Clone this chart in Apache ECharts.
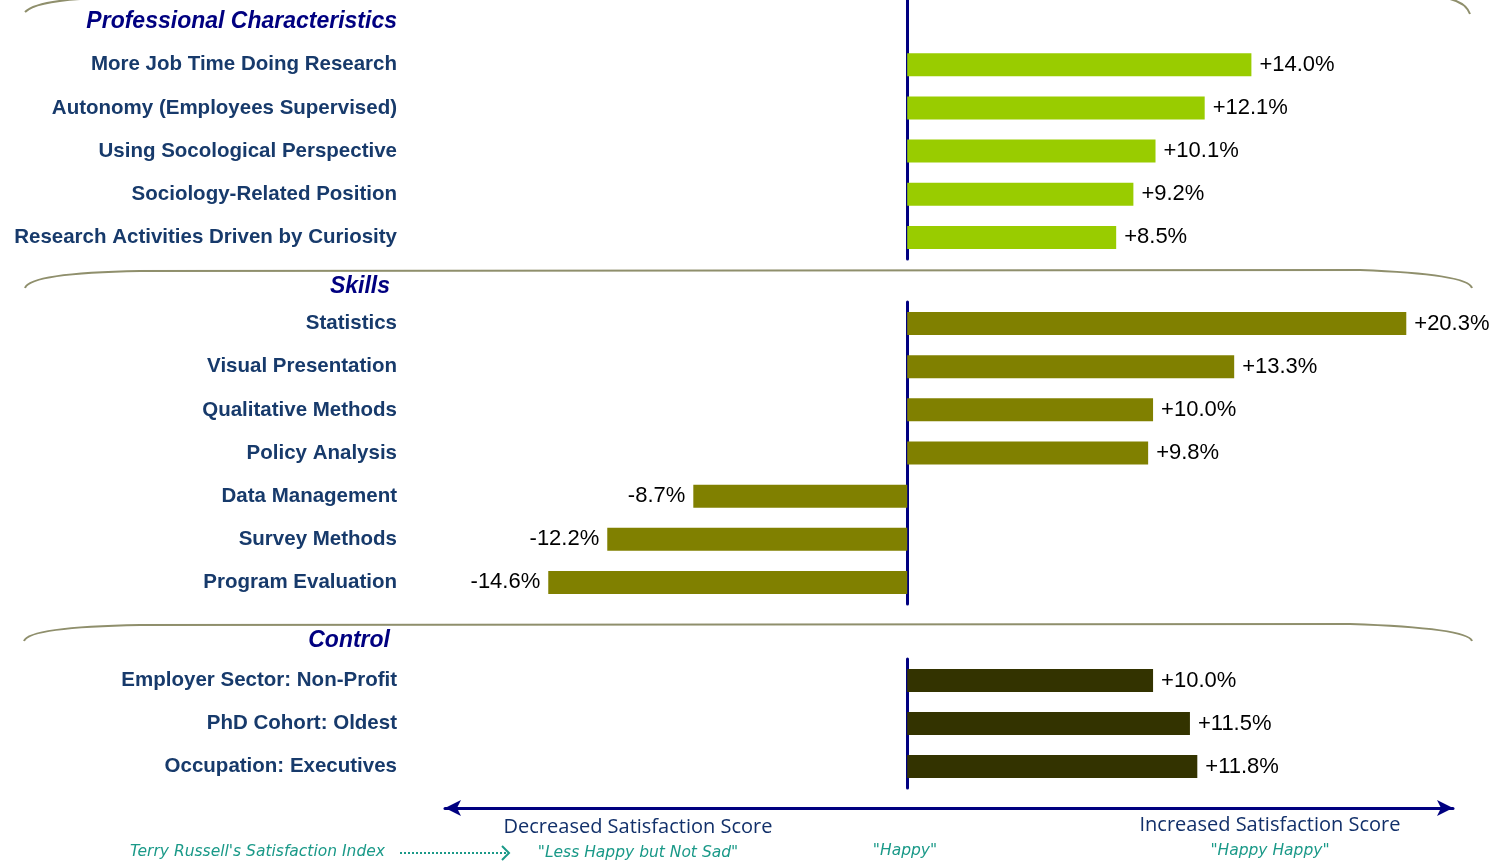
<!DOCTYPE html>
<html>
<head>
<meta charset="utf-8">
<script src="https://cdn.jsdelivr.net/npm/echarts@6/dist/echarts.min.js"></script>
<style>
  html, body { margin: 0; padding: 0; background: #fff; }
  #chart { width: 1504px; height: 866px; }
</style>
</head>
<body>
<div id="chart"></div>
<script type="text/javascript">
// data
var profHeader = 'Professional Characteristics';
var profLabels = ['More Job Time Doing Research', 'Autonomy (Employees Supervised)', 'Using Socological Perspective', 'Sociology-Related Position', 'Research Activities Driven by Curiosity'];
var profValues = [14.0, 12.1, 10.1, 9.2, 8.5];

var skillsHeader = 'Skills';
var skillsLabels = ['Statistics', 'Visual Presentation', 'Qualitative Methods', 'Policy Analysis', 'Data Management', 'Survey Methods', 'Program Evaluation'];
var skillsValues = [20.3, 13.3, 10.0, 9.8, -8.7, -12.2, -14.6];

var controlHeader = 'Control';
var controlLabels = ['Employer Sector: Non-Profit', 'PhD Cohort: Oldest', 'Occupation: Executives'];
var controlValues = [10.0, 11.5, 11.8];

var scaleNames = ['Decreased Satisfaction Score', 'Increased Satisfaction Score'];
var indexNames = ["Terry Russell's Satisfaction Index", '"Less Happy but Not Sad"', '"Happy"', '"Happy Happy"'];

var colors = ['#99cc00', '#808000', '#333300'];

var myChart = echarts.init(document.getElementById('chart'));

function fmt(p) {
    if (p.value == null) return '';
    return (p.value > 0 ? '+' : '') + p.value.toFixed(1) + '%';
}

var headFont = { fontFamily: 'Liberation Sans', fontWeight: 'bold', fontStyle: 'italic', fontSize: 23, color: '#000080' };

// label axis, sits at the grid's left edge
function yLabels(i, cats) {
    return {
        type: 'category', gridIndex: i, data: cats, inverse: true, position: 'left',
        axisLine: { show: false, onZero: false },
        axisTick: { show: false },
        axisLabel: {
            margin: 48, align: 'right', interval: 0,
            fontFamily: 'Liberation Sans', fontWeight: 'bold', fontSize: 20.5, color: '#173a6b',
            formatter: function (v, idx) {
                if (i === 0 && idx === 0) return '{h|' + v + '}';
                return v;
            },
            rich: { h: headFont }
        }
    };
}
// zero line axis
function yZero(i, cats) {
    return {
        type: 'category', gridIndex: i, data: cats, inverse: true, position: 'left',
        axisLine: { show: true, onZero: true, lineStyle: { color: '#000080', width: 3 } },
        axisTick: { show: false },
        axisLabel: { show: false }
    };
}

function xAx(i, showLine) {
    return {
        type: 'value', gridIndex: i, min: -18.8, max: 22.2,
        splitLine: { show: false },
        axisLabel: { show: false },
        axisTick: { show: false },
        position: 'bottom',
        offset: showLine ? 20 : 0,
        axisLine: {
            show: showLine, onZero: false,
            symbol: ['arrow', 'arrow'], symbolSize: [12, 16],
            lineStyle: { color: '#000080', width: 3 }
        }
    };
}

function bars(i, vals) {
    return {
        type: 'bar', xAxisIndex: i, yAxisIndex: i * 2, data: vals,
        barWidth: 23,
        itemStyle: { color: colors[i] },
        label: {
            show: true, position: 'right', distance: 8,
            fontFamily: 'Liberation Sans', fontSize: 22, color: '#000',
            formatter: fmt
        }
    };
}

var skillsBars = bars(1, skillsValues.map(function (v) {
    return v < 0 ? { value: v, label: { position: 'left' } } : v;
}));

var sepColor = '#8f8f6c';
function sep() { return { stroke: sepColor, lineWidth: 2, fill: null }; }
function teal(txt, x, y, align) {
    return { type: 'text', x: x, y: y, style: { text: txt, align: align, verticalAlign: 'middle', font: 'italic 15.5px "DejaVu Sans"', fill: '#1a9988' } };
}

var gridBase = { left: 445, right: 51, containLabel: false };
var profCats = [profHeader].concat(profLabels);

var option = {
    animation: false,
    grid: [
        Object.assign({ top: 0, height: 259 }, gridBase),
        Object.assign({ top: 302, height: 302 }, gridBase),
        Object.assign({ top: 659, height: 129 }, gridBase)
    ],
    xAxis: [xAx(0, false), xAx(1, false), xAx(2, true)],
    yAxis: [
        yLabels(0, profCats), yZero(0, profCats),
        yLabels(1, skillsLabels), yZero(1, skillsLabels),
        yLabels(2, controlLabels), yZero(2, controlLabels)
    ],
    series: [
        bars(0, [null].concat(profValues)),
        skillsBars,
        bars(2, controlValues)
    ],
    graphic: [
        // group headers
        { type: 'text', x: 390, y: 287, style: { text: skillsHeader, align: 'right', verticalAlign: 'middle', font: 'italic bold 23px "Liberation Sans"', fill: '#000080' } },
        { type: 'text', x: 390, y: 641, style: { text: controlHeader, align: 'right', verticalAlign: 'middle', font: 'italic bold 23px "Liberation Sans"', fill: '#000080' } },
        // separators
        { type: 'bezierCurve', shape: { x1: 25, y1: 12, cpx1: 35, cpy1: 2, x2: 80, y2: -1 }, style: sep() },
        { type: 'bezierCurve', shape: { x1: 1450, y1: -1, cpx1: 1466, cpy1: 3, x2: 1470, y2: 14 }, style: sep() },
        { type: 'bezierCurve', shape: { x1: 25, y1: 288, cpx1: 30, cpy1: 273, x2: 140, y2: 271 }, style: sep() },
        { type: 'line', shape: { x1: 140, y1: 271, x2: 1360, y2: 270 }, style: sep() },
        { type: 'bezierCurve', shape: { x1: 1360, y1: 270, cpx1: 1468, cpy1: 274, x2: 1472, y2: 288 }, style: sep() },
        { type: 'bezierCurve', shape: { x1: 24, y1: 641, cpx1: 29, cpy1: 627, x2: 140, y2: 625 }, style: sep() },
        { type: 'line', shape: { x1: 140, y1: 625, x2: 1350, y2: 624 }, style: sep() },
        { type: 'bezierCurve', shape: { x1: 1350, y1: 624, cpx1: 1468, cpy1: 628, x2: 1472, y2: 641 }, style: sep() },
        // scale texts
        { type: 'text', x: 638, y: 827, style: { text: scaleNames[0], align: 'center', verticalAlign: 'middle', font: '20px "Open Sans"', fill: '#12306a' } },
        { type: 'text', x: 1270, y: 825, style: { text: scaleNames[1], align: 'center', verticalAlign: 'middle', font: '20px "Open Sans"', fill: '#12306a' } },
        teal(indexNames[0], 130, 852, 'left'),
        teal(indexNames[1], 638, 853, 'center'),
        teal(indexNames[2], 905, 851, 'center'),
        teal(indexNames[3], 1270, 851, 'center'),
        { type: 'line', shape: { x1: 400, y1: 853, x2: 506, y2: 853 }, style: { stroke: '#1a9988', lineWidth: 2, lineDash: [2, 2] } },
        { type: 'polyline', shape: { points: [[502, 846], [509, 853], [502, 860]] }, style: { fill: null, stroke: '#1a9988', lineWidth: 2 } }
    ]
};

myChart.setOption(option);
</script>
</body>
</html>
